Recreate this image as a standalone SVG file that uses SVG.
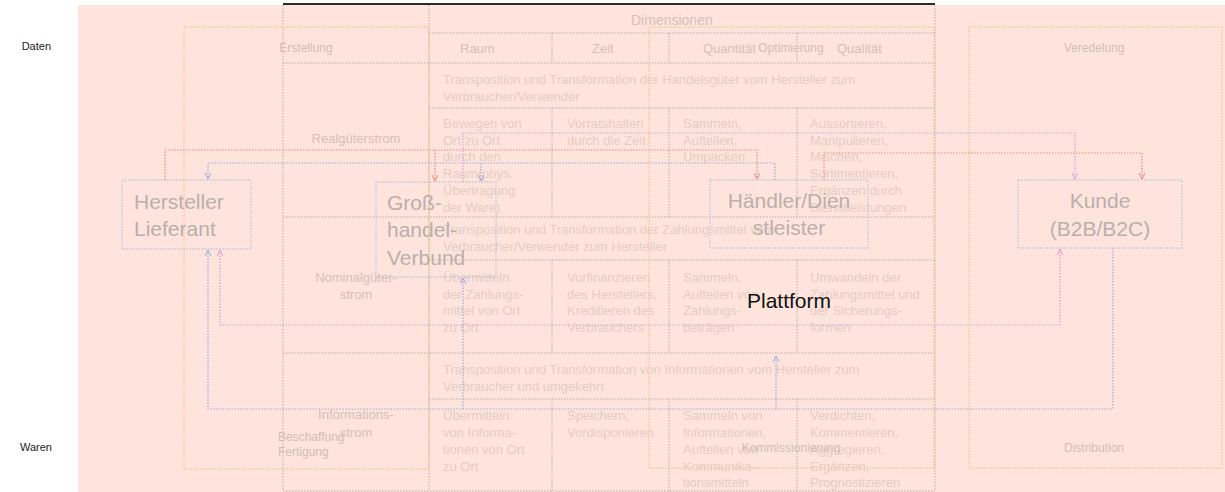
<svg xmlns="http://www.w3.org/2000/svg" width="1225" height="492" viewBox="0 0 1225 492">
<style>
.tl{fill:none;stroke:#bcaaa5;stroke-width:1;stroke-dasharray:1.5 1.5}
.yl{fill:none;stroke:#f3c88e;stroke-width:1.3;stroke-dasharray:1.5 1.5}
.nd{fill:none;stroke:#c2c4d6;stroke-width:1.3;stroke-dasharray:1.5 1.5}
.cr{fill:none;stroke:#f0887a;stroke-width:1.2;stroke-dasharray:1.5 1.5}
.cb{fill:none;stroke:#9ea9dc;stroke-width:1.2;stroke-dasharray:1.5 1.5}
.cp{fill:none;stroke:#e09ad8;stroke-width:1.2;stroke-dasharray:1.5 1.5}
text{font-family:"Liberation Sans",Arial,sans-serif}
.nt{font-size:21px;fill:#bbafac}
.tt{font-size:13px;fill:#e5cdc6}
.hd{font-size:13px;fill:#d6c0ba}
.lc{font-size:13px;fill:#d6c0ba;text-anchor:middle}
.lb{font-size:12px;fill:#d2beb9}
.side{font-size:11px;fill:#222}
</style>
<defs>
<marker id="ar" markerUnits="userSpaceOnUse" markerWidth="7" markerHeight="7" refX="6" refY="3" orient="auto"><path d="M0,0 L6,3 L0,6" fill="none" stroke="#f0887a" stroke-width="1"/></marker>
<marker id="ab" markerUnits="userSpaceOnUse" markerWidth="7" markerHeight="7" refX="6" refY="3" orient="auto"><path d="M0,0 L6,3 L0,6" fill="none" stroke="#9ea9dc" stroke-width="1"/></marker>
<marker id="ap" markerUnits="userSpaceOnUse" markerWidth="7" markerHeight="7" refX="6" refY="3" orient="auto-start-reverse"><path d="M0,0 L6,3 L0,6" fill="none" stroke="#e09ad8" stroke-width="1"/></marker>
</defs>
<rect x="0" y="0" width="1225" height="492" fill="#ffffff"/>
<rect x="78" y="5" width="1147" height="487" fill="#fee4dc"/>
<text class="side" x="51" y="50" text-anchor="end">Daten</text>
<text class="side" x="52" y="451" text-anchor="end">Waren</text>

<g id="table">
<line x1="283" y1="4" x2="935" y2="4" stroke="#2a2a2a" stroke-width="2"/>
<path class="tl" d="M283,5V491M429,5V491M935,5V491M429,33H935M283,63H935M429,108H935M283,217H935M429,260H935M283,353H935M429,399H935M283,491H935"/>
<path class="tl" d="M552,33V63M669,33V63M797,33V63M552,108V217M669,108V217M797,108V217M552,260V353M669,260V353M797,260V353M552,399V491M669,399V491M797,399V491"/>
<text class="hd" x="631" y="25" style="font-size:14px">Dimensionen</text>
<text class="hd" x="460" y="53">Raum</text>
<text class="hd" x="592" y="53">Zeit</text>
<text class="hd" x="703" y="53">Quantität</text>
<text class="hd" x="837" y="53">Qualität</text>
<text class="lc" x="356" y="143">Realgüterstrom</text>
<text class="lc" x="356" y="282">Nominalgüter-</text>
<text class="lc" x="356" y="299">strom</text>
<text class="lc" x="356" y="419">Informations-</text>
<text class="lc" x="356" y="437">strom</text>
<text class="tt" x="443" y="84">Transposition und Transformation der Handelsgüter vom Hersteller zum</text>
<text class="tt" x="443" y="101">Verbraucher/Verwender</text>
<text class="tt" x="443" y="234">Transposition und Transformation der Zahlungsmittel vom</text>
<text class="tt" x="443" y="251">Verbraucher/Verwender zum Hersteller</text>
<text class="tt" x="443" y="374">Transposition und Transformation von Informationen vom Hersteller zum</text>
<text class="tt" x="443" y="391">Verbraucher und umgekehrt</text>
<text class="tt"><tspan x="443" y="128">Bewegen von</tspan><tspan x="443" y="145">Ort zu Ort</tspan><tspan x="443" y="161">durch den</tspan><tspan x="443" y="178">Raum(phys.</tspan><tspan x="443" y="195">Übertragung</tspan><tspan x="443" y="212">der Ware)</tspan></text>
<text class="tt"><tspan x="567" y="128">Vorratshalten</tspan><tspan x="567" y="145">durch die Zeit</tspan></text>
<text class="tt"><tspan x="683" y="128">Sammeln,</tspan><tspan x="683" y="145">Aufteilen,</tspan><tspan x="683" y="161">Umpacken</tspan></text>
<text class="tt"><tspan x="810" y="128">Aussortieren,</tspan><tspan x="810" y="145">Manipulieren,</tspan><tspan x="810" y="161">Mischen,</tspan><tspan x="810" y="178">Sortimentieren,</tspan><tspan x="810" y="195">Ergänzen durch</tspan><tspan x="810" y="212">Dienstleistungen</tspan></text>
<text class="tt"><tspan x="443" y="282">Übermitteln</tspan><tspan x="443" y="299">der Zahlungs-</tspan><tspan x="443" y="315">mittel von Ort</tspan><tspan x="443" y="332">zu Ort</tspan></text>
<text class="tt"><tspan x="567" y="282">Vorfinanzieren</tspan><tspan x="567" y="299">des Herstellers,</tspan><tspan x="567" y="315">Kreditieren des</tspan><tspan x="567" y="332">Verbrauchers</tspan></text>
<text class="tt"><tspan x="683" y="282">Sammeln,</tspan><tspan x="683" y="299">Aufteilen von</tspan><tspan x="683" y="315">Zahlungs-</tspan><tspan x="683" y="332">beträgen</tspan></text>
<text class="tt"><tspan x="810" y="282">Umwandeln der</tspan><tspan x="810" y="299">Zahlungsmittel und</tspan><tspan x="810" y="315">der Sicherungs-</tspan><tspan x="810" y="332">formen</tspan></text>
<text class="tt"><tspan x="443" y="420">Übermitteln</tspan><tspan x="443" y="437">von Informa-</tspan><tspan x="443" y="454">tionen von Ort</tspan><tspan x="443" y="471">zu Ort</tspan></text>
<text class="tt"><tspan x="567" y="420">Speichern,</tspan><tspan x="567" y="437">Vordisponieren</tspan></text>
<text class="tt"><tspan x="683" y="420">Sammeln von</tspan><tspan x="683" y="437">Informationen,</tspan><tspan x="683" y="454">Aufteilen von</tspan><tspan x="683" y="471">Kommunika-</tspan><tspan x="683" y="487">tionsmitteln</tspan></text>
<text class="tt"><tspan x="810" y="420">Verdichten,</tspan><tspan x="810" y="437">Kommentieren,</tspan><tspan x="810" y="454">Aggregieren,</tspan><tspan x="810" y="471">Ergänzen,</tspan><tspan x="810" y="487">Prognostizieren</tspan></text>
</g>

<g id="erstellung">
<rect class="yl" x="184" y="27" width="245" height="442"/>
<text class="lb" x="306" y="52" text-anchor="middle">Erstellung</text>
<text class="lb" x="278" y="441">Beschaffung</text>
<text class="lb" x="278" y="456">Fertigung</text>
</g>
<g id="plattform">
<rect class="yl" x="649" y="27" width="285" height="441"/>
<text class="lb" x="791" y="52" text-anchor="middle">Optimierung</text>
<text class="lb" x="791" y="452" text-anchor="middle">Kommissionierung</text>
<text x="747" y="308" style="font-size:21px;fill:#111">Plattform</text>
</g>
<g id="veredelung">
<rect class="yl" x="969" y="27" width="253" height="441"/>
<text class="lb" x="1094" y="52" text-anchor="middle">Veredelung</text>
<text class="lb" x="1094" y="452" text-anchor="middle">Distribution</text>
</g>

<g id="connectors">
<path class="cr" d="M165,180V150H757V179" marker-end="url(#ar)"/>
<path class="cr" d="M435,150V181" marker-end="url(#ar)"/>
<path class="cr" d="M824,180V153H1142V179" marker-end="url(#ar)"/>
<path class="cb" d="M775,180V163H208V179" marker-end="url(#ab)"/>
<path class="cb" d="M481,163V181" marker-end="url(#ab)"/>
<path class="cb" d="M1113,248V409H208V250" marker-end="url(#ab)"/>
<path class="cb" d="M463,409V278" marker-end="url(#ab)"/>
<path class="cb" d="M776,409V356" marker-end="url(#ab)"/>
<path class="cp" d="M463,182V133H1075V179" marker-end="url(#ap)"/>
<path class="cp" d="M1060,249V325H220V250" marker-start="url(#ap)" marker-end="url(#ap)"/>
</g>

<g id="hersteller">
<rect class="nd" x="122" y="180" width="129" height="69"/>
<text class="nt" x="134" y="209">Hersteller</text>
<text class="nt" x="134" y="236">Lieferant</text>
</g>
<g id="grosshandel">
<rect class="nd" x="376" y="182" width="120" height="95"/>
<text class="nt" x="387" y="210">Groß-</text>
<text class="nt" x="387" y="237">handel-</text>
<text class="nt" x="387" y="265">Verbund</text>
</g>
<g id="haendler">
<rect class="nd" x="710" y="180" width="158" height="68"/>
<text class="nt" x="789" y="208" text-anchor="middle">Händler/Dien</text>
<text class="nt" x="789" y="235" text-anchor="middle">stleister</text>
</g>
<g id="kunde">
<rect class="nd" x="1018" y="180" width="164" height="68"/>
<text class="nt" x="1100" y="208" text-anchor="middle">Kunde</text>
<text class="nt" x="1100" y="236" text-anchor="middle">(B2B/B2C)</text>
</g>
</svg>
